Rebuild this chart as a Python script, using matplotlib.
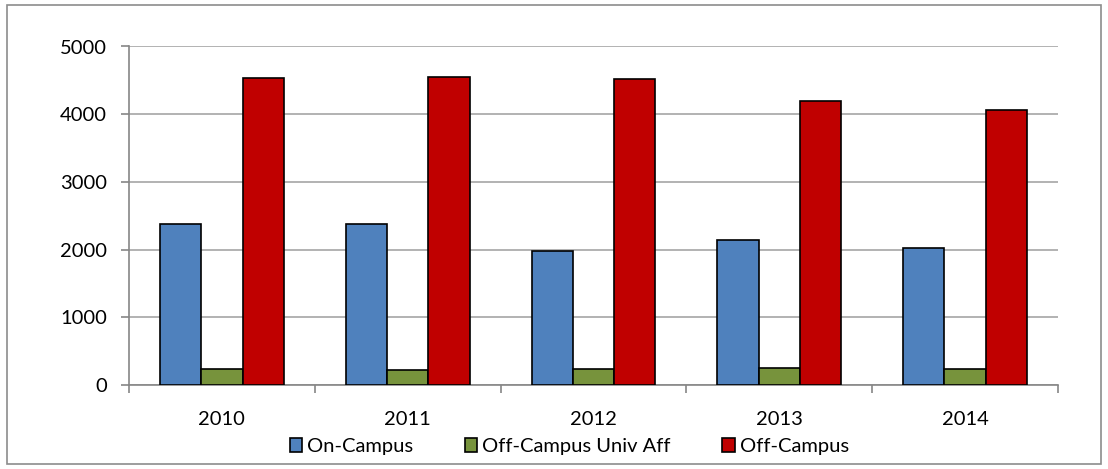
import matplotlib.pyplot as plt
import numpy as np
from matplotlib.patches import Rectangle

years = ["2010", "2011", "2012", "2013", "2014"]
on_campus = [2384, 2374, 1985, 2139, 2030]
off_univ_aff = [232, 225, 234, 248, 230]
off_campus = [4540, 4552, 4515, 4190, 4066]

series = [("On-Campus", on_campus, "#4f81bd"),
          ("Off-Campus Univ Aff", off_univ_aff, "#77933c"),
          ("Off-Campus", off_campus, "#c00000")]

plt.rcParams['font.family'] = ['Lato', 'DejaVu Sans']
fs = 14.5

fig = plt.figure(figsize=(11.08, 4.69), dpi=100)
ax = fig.add_axes([129/1108, 1 - 385/469, (1058-129)/1108, (385-46.5)/469])

# outer chart border
fig.patches.append(Rectangle((7/1108, 5/469), 1094/1108, 459/469, transform=fig.transFigure,
                             fill=False, edgecolor="#8c8c8c", linewidth=1.2))

x = np.arange(len(years))
w = 0.222
for i, (name, vals, col) in enumerate(series):
    ax.bar(x + (i - 1) * w, vals, w, color=col, edgecolor="black", linewidth=1.2,
           label=name, zorder=3)

ax.set_xlim(-0.5, len(years) - 0.5)
ax.set_ylim(0, 5000)
ax.set_yticks(np.arange(0, 5001, 1000))
ax.yaxis.grid(True, color="#a6a6a6", linewidth=1.2, zorder=0)
ax.set_xticks(np.arange(-0.5, len(years), 1))
ax.set_xticklabels([])
ax.set_xticks(x, minor=True)
ax.set_xticklabels(years, minor=True, fontsize=fs)
ax.tick_params(axis="x", which="minor", length=0, pad=19)
ax.tick_params(axis="x", which="major", length=6, color="#868686", width=1.2)
ax.tick_params(axis="y", length=6, color="#868686", width=1.2, labelsize=fs, pad=10)

for s in ["top", "right"]:
    ax.spines[s].set_visible(False)
for s in ["left", "bottom"]:
    ax.spines[s].set_color("#868686")
    ax.spines[s].set_linewidth(1.2)

ax.legend(loc="center", bbox_to_anchor=(0.474, -0.182), ncol=3, frameon=False,
          fontsize=fs, handlelength=0.62, handleheight=0.62, handletextpad=0.25,
          columnspacing=2.55, borderpad=0)

fig.savefig("out.png", dpi=100)
